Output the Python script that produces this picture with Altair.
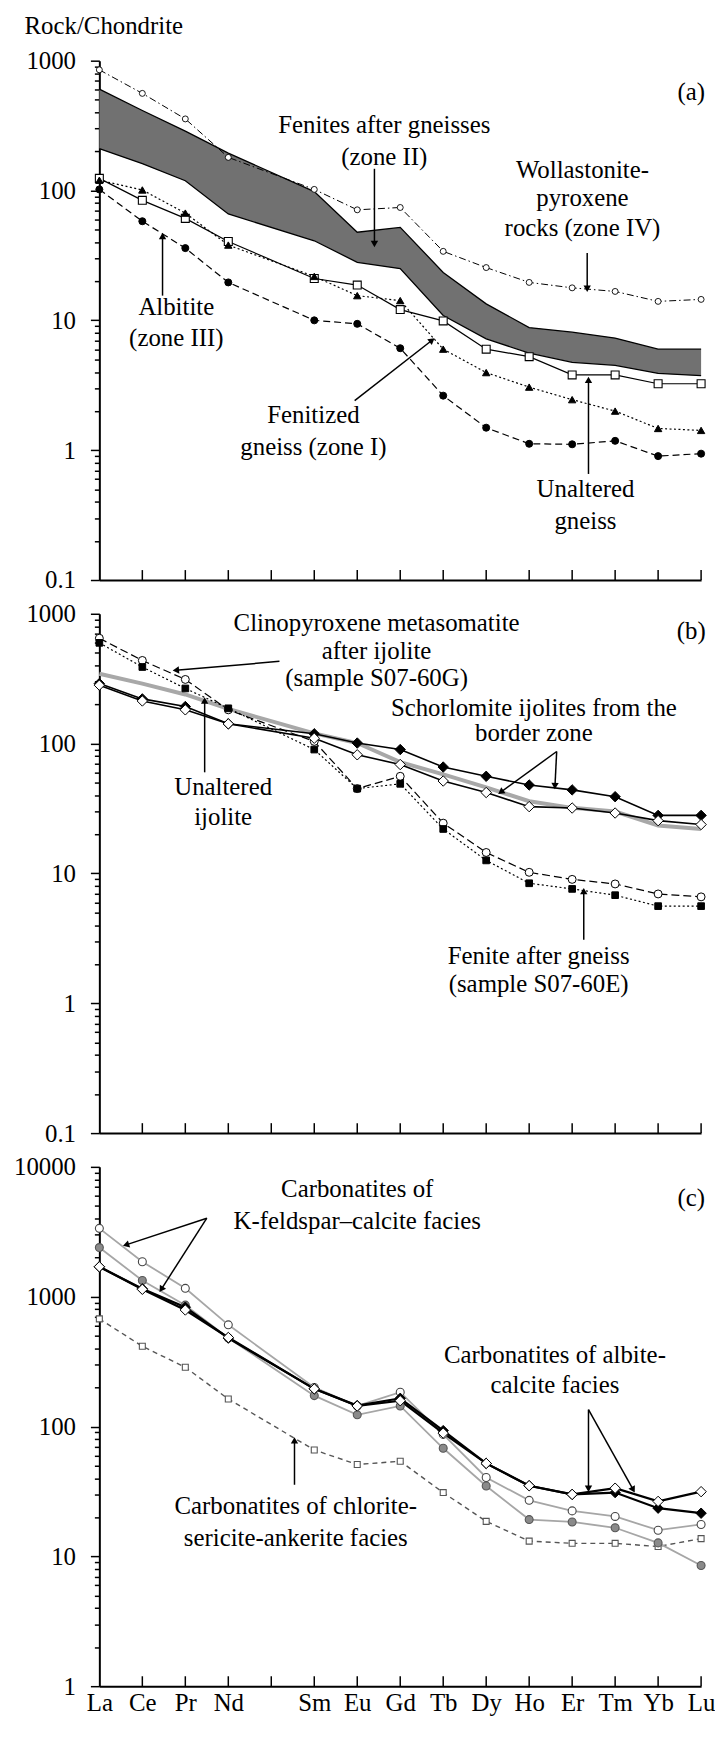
import json
import altair as alt
import pandas as pd

FONT = "Liberation Serif, Times New Roman, Times, serif"
FS = 25       # annotation text
FS_TICK = 25  # tick labels
W, H = 606, 523

# ---------------- categories ----------------
ELEMENTS = ["La", "Ce", "Pr", "Nd", "Pm", "Sm", "Eu", "Gd", "Tb", "Dy", "Ho", "Er", "Tm", "Yb", "Lu"]
REE = [e for e in ELEMENTS if e != "Pm"]
REE_POS = [ELEMENTS.index(e) for e in REE]
TICK_POS = list(range(1, len(ELEMENTS)))

# ---------------- panel (a) ----------------
A_WOLL = [850, 560, 356, 180, 102, 71, 74, 34, 25.5, 19.6, 17.8, 16.7, 14.0, 14.5]
A_BAND_HI = [604, 413, 287, 194, 98, 47.7, 52, 23.4, 13.4, 8.8, 8.1, 7.3, 6.0, 6.0]
A_BAND_LO = [210, 161, 119, 66, 41, 28, 25, 10.9, 7.2, 5.6, 4.75, 4.5, 3.9, 3.75]
A_UNALT = [124, 84, 61, 40.5, 21, 18.7, 12.1, 9.9, 6.0, 5.25, 3.8, 3.8, 3.25, 3.25]
A_FENITIZED = [120, 101, 67, 38, 21.8, 15.5, 14.2, 6.0, 3.96, 3.06, 2.45, 2.0, 1.47, 1.42]
A_ALBITITE = [102, 58, 36, 19.6, 10, 9.4, 6.1, 2.63, 1.49, 1.12, 1.11, 1.18, 0.90, 0.94]

A_TEXT = ["(a)", "Fenites after gneisses", "(zone II)", "Wollastonite-", "pyroxene",
          "rocks (zone IV)", "Albitite", "(zone III)", "Fenitized", "gneiss (zone I)",
          "Unaltered", "gneiss"]
A_TEXT_X = [13.77, 6.63, 6.63, 11.24, 11.24, 11.24, 1.79, 1.79, 4.98, 4.98, 11.31, 11.31]
A_TEXT_Y = [570, 319, 182, 145, 86.9, 51.3, 12.6, 7.29, 1.88, 1.05, 0.504, 0.287]
A_ARR_X1 = [6.4, 11.35, 1.47, 5.94, 11.38]
A_ARR_Y1 = [147, 33, 15.5, 2.41, 0.656]
A_ARR_X2 = [6.4, 11.35, 1.47, 7.74, 11.38]
A_ARR_Y2 = [38.7, 17.5, 44.6, 7.03, 3.48]
A_ARR_ANG = [180, 180, 0, 52, 0]

# y-axis title of the whole figure, placed above panel (a)
TITLE_TEXT = ["Rock/Chondrite"]
TITLE_X = [-1.74]
TITLE_Y = [1850]

# ---------------- panel (b) ----------------
B_CLINO = [648, 437, 312, 182, 104, 45, 56, 24.4, 14.5, 10.2, 9.0, 8.3, 6.95, 6.6]
B_FENITE = [597, 389, 266, 187, 90, 45, 49, 22, 12.6, 8.4, 7.6, 6.8, 5.6, 5.6]
B_UNALT_IJ = [345, 290, 239, 185, 120, 101, 72, 58, 46, 36, 32, 30, 23.4, 22]
B_SCHORL_FILLED = [290, 221, 193, 142, 119, 101, 90, 66, 56, 48, 44, 39, 28, 28]
B_SCHORL_OPEN = [282, 213, 182, 142, 110, 82, 69, 51.5, 42, 32.7, 31.9, 29.2, 25.5, 23.8]

B_TEXT = ["(b)", "Clinopyroxene metasomatite", "after ijolite", "(sample S07-60G)",
          "Unaltered", "ijolite", "Schorlomite ijolites from the", "border zone",
          "Fenite after gneiss", "(sample S07-60E)"]
B_TEXT_X = [13.77, 6.45, 6.45, 6.45, 2.88, 2.88, 10.11, 10.11, 10.22, 10.22]
B_TEXT_Y = [741, 850, 513, 318, 46.1, 27.2, 188, 121, 2.32, 1.40]
B_ARR_X1 = [4.19, 2.45, 10.64, 10.64, 11.27]
B_ARR_Y1 = [430, 60.1, 86.9, 86.9, 3.08]
B_ARR_X2 = [1.78, 2.45, 9.34, 10.6, 11.27]
B_ARR_Y2 = [367, 215, 42.3, 47, 7.3]
B_ARR_ANG = [265, 0, 234, 182, 0]

# ---------------- panel (c) ----------------
C_KFS_OPEN = [3360, 1860, 1160, 607, 200, 144, 184, 87, 40.5, 27, 22.4, 20.3, 15.9, 17.6]
C_KFS_GRAY = [2390, 1333, 861, 481, 173, 123, 144, 68, 34.8, 19.2, 18.4, 16.6, 12.7, 8.5]
C_ALB_OPEN = [1700, 1140, 790, 485, 195, 144, 158, 89, 52, 35, 30, 33.5, 26.5, 31.5]
C_ALB_FILLED = [1700, 1150, 830, 480, 195, 145, 165, 93, 52, 35, 30, 31, 23.5, 21.5]
C_CHLORITE = [675, 415, 286, 163, 66, 51, 54, 31, 18.6, 13.1, 12.6, 12.6, 11.9, 13.7]

C_TEXT = ["(c)", "Carbonatites of", "K-feldspar\u2013calcite facies", "Carbonatites of albite-",
          "calcite facies", "Carbonatites of chlorite-", "sericite-ankerite facies"]
C_TEXT_X = [13.77, 6.0, 6.0, 10.6, 10.6, 4.57, 4.57]
C_TEXT_Y = [5710, 6800, 3820, 353, 208, 24.2, 13.8]
C_ARR_X1 = [2.5, 2.5, 11.38, 11.38, 4.54]
C_ARR_Y1 = [4025, 4025, 135, 135, 35.6]
C_ARR_X2 = [0.62, 1.44, 11.38, 12.42, 4.54]
C_ARR_Y2 = [2507, 1140, 33.2, 32.6, 78.3]
C_ARR_ANG = [252, 213, 180, 151, 0]

MAJOR = "abs(log(datum.value)/LN10 - round(log(datum.value)/LN10)) < 0.0001"


def y_ticks(lo, hi):
    vals = []
    for e in range(lo, hi):
        for k in range(1, 10):
            vals.append(round(k * 10.0 ** e, 6))
    vals.append(round(10.0 ** hi, 6))
    return vals


def make_panel(lo, hi, show_labels, layers_fn):
    def X(field):
        return alt.X(
            f"{field}:Q",
            scale=alt.Scale(domain=[0, 14], nice=False, zero=False),
            axis=alt.Axis(
                values=REE_POS, labels=show_labels,
                labelExpr=json.dumps(ELEMENTS) + "[datum.value]",
                ticks=False, grid=False, domainColor="black", domainWidth=2,
                title=None, labelFont=FONT, labelFontSize=FS_TICK, labelColor="black",
                labelPadding=4, labelOverlap=False, labelFlush=False,
            ),
        )

    def Y(field):
        return alt.Y(
            f"{field}:Q",
            scale=alt.Scale(type="log", domain=[10.0 ** lo, 10.0 ** hi], nice=False),
            axis=alt.Axis(
                values=y_ticks(lo, hi), format="~g",
                labelExpr=f"({MAJOR}) ? datum.label : ''",
                tickSize={"condition": {"test": MAJOR, "value": 9}, "value": 5},
                tickWidth=1.5, tickColor="black", grid=False, domainColor="black",
                domainWidth=2, title=None, labelFont=FONT, labelFontSize=FS_TICK,
                labelColor="black", labelPadding=15, labelOverlap=False,
                labelFlush=False, labelBound=False,
            ),
        )

    ticks = alt.Chart(pd.DataFrame({"x": TICK_POS})).mark_rule(
        color="black", strokeWidth=1.5
    ).encode(x=X("x"), y=alt.value(H), y2=alt.value(H - 10))
    layers = [ticks] + layers_fn(X, Y)
    return alt.layer(*layers).properties(width=W, height=H)


def series_df(vals):
    return pd.DataFrame({"x": REE_POS, "v": vals})


def line(X, Y, vals, color="black", width=1.2, dash=None):
    kw = dict(color=color, strokeWidth=width)
    if dash is not None:
        kw["strokeDash"] = dash
    return alt.Chart(series_df(vals)).mark_line(**kw).encode(x=X("x"), y=Y("v"))


def pts(X, Y, vals, shape, fill, stroke, size, sw=1.0):
    return alt.Chart(series_df(vals)).mark_point(
        shape=shape, filled=True, fill=fill, stroke=stroke, strokeWidth=sw,
        size=size, opacity=1
    ).encode(x=X("x"), y=Y("v"))


def texts(X, Y, t, xs, ys, align="center"):
    df = pd.DataFrame({"t": t, "x": xs, "y": ys})
    return alt.Chart(df).mark_text(
        font=FONT, fontSize=FS, color="black", align=align, baseline="middle"
    ).encode(x=X("x"), y=Y("y"), text="t:N")


def arrows(X, Y, x1, y1, x2, y2, ang):
    df = pd.DataFrame({"x1": x1, "y1": y1, "x2": x2, "y2": y2, "ang": ang})
    shafts = alt.Chart(df).mark_rule(color="black", strokeWidth=1.5).encode(
        x=X("x1"), y=Y("y1"), x2=alt.X2("x2"), y2=alt.Y2("y2"))
    heads = alt.Chart(df).mark_point(
        shape="triangle-up", filled=True, color="black", size=55, opacity=1
    ).encode(x=X("x2"), y=Y("y2"), angle=alt.Angle("ang:Q", scale=None))
    return [shafts, heads]


def layers_a(X, Y):
    band_df = pd.DataFrame({"x": REE_POS, "hi": A_BAND_HI, "lo": A_BAND_LO})
    band = alt.Chart(band_df).mark_area(color="#717171", opacity=1).encode(
        x=X("x"), y=Y("hi"), y2=alt.Y2("lo"))
    return [
        band,
        line(X, Y, A_BAND_HI, width=1.3),
        line(X, Y, A_BAND_LO, width=1.3),
        line(X, Y, A_WOLL, width=1.0, dash=[7, 3, 1.5, 3]),
        line(X, Y, A_UNALT, width=1.2),
        line(X, Y, A_FENITIZED, width=1.2, dash=[2, 2.5]),
        line(X, Y, A_ALBITITE, width=1.2, dash=[7, 4]),
        pts(X, Y, A_WOLL, "circle", "white", "black", 36, 0.9),
        pts(X, Y, A_UNALT, "square", "white", "black", 64, 1.1),
        pts(X, Y, A_FENITIZED, "triangle-up", "black", "black", 55),
        pts(X, Y, A_ALBITITE, "circle", "black", "black", 50),
        texts(X, Y, A_TEXT, A_TEXT_X, A_TEXT_Y),
        texts(X, Y, TITLE_TEXT, TITLE_X, TITLE_Y, align="left"),
    ] + arrows(X, Y, A_ARR_X1, A_ARR_Y1, A_ARR_X2, A_ARR_Y2, A_ARR_ANG)


def layers_b(X, Y):
    return [
        line(X, Y, B_UNALT_IJ, color="#a8a8a8", width=4),
        line(X, Y, B_CLINO, width=1.2, dash=[8, 4]),
        line(X, Y, B_FENITE, width=1.2, dash=[2, 2.5]),
        line(X, Y, B_SCHORL_FILLED, width=1.6),
        line(X, Y, B_SCHORL_OPEN, width=1.6),
        pts(X, Y, B_CLINO, "circle", "white", "black", 64),
        pts(X, Y, B_FENITE, "square", "black", "black", 45),
        pts(X, Y, B_SCHORL_FILLED, "diamond", "black", "black", 110),
        pts(X, Y, B_SCHORL_OPEN, "diamond", "white", "black", 110),
        texts(X, Y, B_TEXT, B_TEXT_X, B_TEXT_Y),
    ] + arrows(X, Y, B_ARR_X1, B_ARR_Y1, B_ARR_X2, B_ARR_Y2, B_ARR_ANG)


def layers_c(X, Y):
    return [
        line(X, Y, C_CHLORITE, color="#555555", width=1.4, dash=[5, 4]),
        line(X, Y, C_KFS_OPEN, color="#a6a6a6", width=1.8),
        line(X, Y, C_KFS_GRAY, color="#a6a6a6", width=1.8),
        line(X, Y, C_ALB_OPEN, color="black", width=2.2),
        line(X, Y, C_ALB_FILLED, color="black", width=2.2),
        pts(X, Y, C_CHLORITE, "square", "white", "#555555", 36, 1.1),
        pts(X, Y, C_KFS_OPEN, "circle", "white", "#444444", 64, 1.1),
        pts(X, Y, C_KFS_GRAY, "circle", "#8a8a8a", "#555555", 64, 1.1),
        pts(X, Y, C_ALB_FILLED, "diamond", "black", "black", 110),
        pts(X, Y, C_ALB_OPEN, "diamond", "white", "black", 110),
        texts(X, Y, C_TEXT, C_TEXT_X, C_TEXT_Y),
    ] + arrows(X, Y, C_ARR_X1, C_ARR_Y1, C_ARR_X2, C_ARR_Y2, C_ARR_ANG)


panel_a = make_panel(-1, 3, False, layers_a)
panel_b = make_panel(-1, 3, False, layers_b)
panel_c = make_panel(0, 4, True, layers_c)

chart = alt.vconcat(panel_a, panel_b, panel_c, spacing=9).properties(
    padding={"left": 5, "top": 0, "right": 0, "bottom": 0}
).configure_view(stroke=None)

chart.save("out.html", embed_options={"renderer": "svg", "actions": False})
